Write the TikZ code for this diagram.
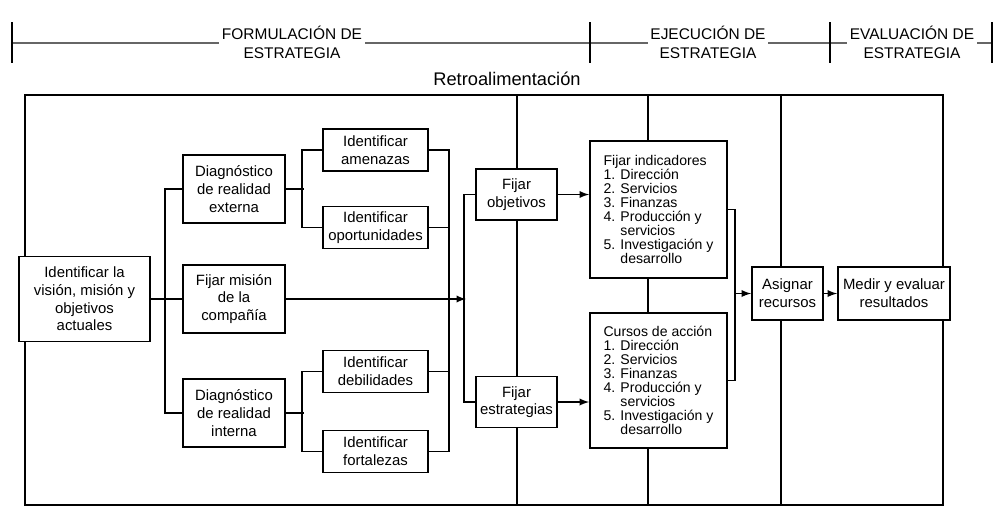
\documentclass[tikz,border=0pt]{standalone}
\usepackage{fontspec}
\setmainfont{Liberation Sans}
\usetikzlibrary{calc}

\tikzset{
  box/.style={draw, fill=white, line width=1.3pt, align=center, inner sep=1pt,
    font=\fontsize{10.6}{12.6}\selectfont},
  listbox/.style={box, align=left, font=\fontsize{10}{10}\selectfont},
  phase/.style={fill=white, inner xsep=2pt, inner ysep=0pt, align=center,
    font=\fontsize{11}{13.5}\selectfont},
  wire/.style={line width=1.3pt},
}

\begin{document}
\begin{tikzpicture}[>=latex]
\useasboundingbox (0,0) rectangle (25.025,-12.925);

% fases
\draw[line width=0.9pt, black!60] (0.3,-1.075) -- (24.8,-1.075);
\foreach \x in {0.3,14.75,20.75,24.8}
  \draw[line width=1.3pt] (\x,-0.55) -- (\x,-1.575);
\node[phase] (formulacion) at (7.3,-1.05) {FORMULACIÓN DE\\ESTRATEGIA};
\node[phase] (ejecucion) at (17.7,-1.05) {EJECUCIÓN DE\\ESTRATEGIA};
\node[phase] (evaluacion) at (22.8,-1.05) {EVALUACIÓN DE\\ESTRATEGIA};
\node[font=\fontsize{13}{15}\selectfont] (retro) at (12.675,-1.975) {Retroalimentación};

% marco
\draw[line width=1.3pt] (0.625,-2.375) rectangle (23.575,-12.625);
\foreach \x in {12.925,16.2,19.525}
  \draw[line width=1pt] (\x,-2.375) -- (\x,-12.625);

% cajas
\node[box, minimum width=3.275cm, minimum height=2.125cm] (vision) at (2.1125,-7.475)
  {Identificar la\\visión, misión y\\objetivos\\actuales};
\node[box, minimum width=2.55cm, minimum height=1.7cm] (diagExt) at (5.85,-4.725)
  {Diagnóstico\\de realidad\\externa};
\node[box, minimum width=2.55cm, minimum height=1.7cm] (mision) at (5.85,-7.475)
  {Fijar misión\\de la\\compañía};
\node[box, minimum width=2.55cm, minimum height=1.7cm] (diagInt) at (5.85,-10.325)
  {Diagnóstico\\de realidad\\interna};
\node[box, minimum width=2.625cm, minimum height=1.05cm] (amenazas) at (9.3875,-3.75)
  {Identificar\\amenazas};
\node[box, minimum width=2.625cm, minimum height=1.05cm] (oportunidades) at (9.3875,-5.6875)
  {Identificar\\oportunidades};
\node[box, minimum width=2.625cm, minimum height=1.05cm] (debilidades) at (9.3875,-9.2875)
  {Identificar\\debilidades};
\node[box, minimum width=2.625cm, minimum height=1.05cm] (fortalezas) at (9.3875,-11.2875)
  {Identificar\\fortalezas};
\node[box, minimum width=2.025cm, minimum height=1.275cm] (objetivos) at (12.9125,-4.8625)
  {Fijar\\objetivos};
\node[box, minimum width=2.025cm, minimum height=1.275cm] (estrategias) at (12.9125,-10.05)
  {Fijar\\estrategias};
\node[listbox, minimum width=3.425cm, minimum height=3.425cm] (indicadores) at (16.4625,-5.2375)
  {Fijar indicadores\\1. Dirección\\2. Servicios\\3. Finanzas\\4. Producción y\\\phantom{4. }servicios\\5. Investigación y\\\phantom{5. }desarrollo};
\node[listbox, minimum width=3.425cm, minimum height=3.375cm] (cursos) at (16.4625,-9.5125)
  {Cursos de acción\\1. Dirección\\2. Servicios\\3. Finanzas\\4. Producción y\\\phantom{4. }servicios\\5. Investigación y\\\phantom{5. }desarrollo};
\node[box, minimum width=1.775cm, minimum height=1.325cm] (asignar) at (19.6875,-7.3375)
  {Asignar\\recursos};
\node[box, minimum width=2.8cm, minimum height=1.325cm] (medir) at (22.35,-7.3375)
  {Medir y evaluar\\resultados};

% conexiones
\draw[wire] (vision.east) -- (mision.west);
\draw[wire] (diagExt.west) -- ++(-0.425,0) |- (diagInt.west);
\draw[wire] (diagExt.east) -- ++(0.45,0);
\draw[wire] (diagInt.east) -- ++(0.45,0);
\draw[wire] (amenazas.west) -- ++(-0.5,0) |- (oportunidades.west);
\draw[wire] (debilidades.west) -- ++(-0.5,0) |- (fortalezas.west);
\draw[wire] (amenazas.east) -- ++(0.5,0) |- (fortalezas.east);
\draw[wire] (oportunidades.east) -- ++(0.5,0);
\draw[wire] (debilidades.east) -- ++(0.5,0);
\draw[wire,->] (mision.east) -- ++(4.5,0);
\draw[wire] (objetivos.west) -- ++(-0.275,0) |- (estrategias.west);
\draw[wire,->] (objetivos.east) -- (objetivos.east -| indicadores.west);
\draw[wire,->] (estrategias.east) -- (estrategias.east -| cursos.west);
\draw[wire] (indicadores.east) -- ++(0.175,0) coordinate (merge) |- (cursos.east);
\draw[wire,->] (merge |- asignar.west) -- (asignar.west);
\draw[wire,->] (asignar.east) -- (medir.west);
\end{tikzpicture}
\end{document}
